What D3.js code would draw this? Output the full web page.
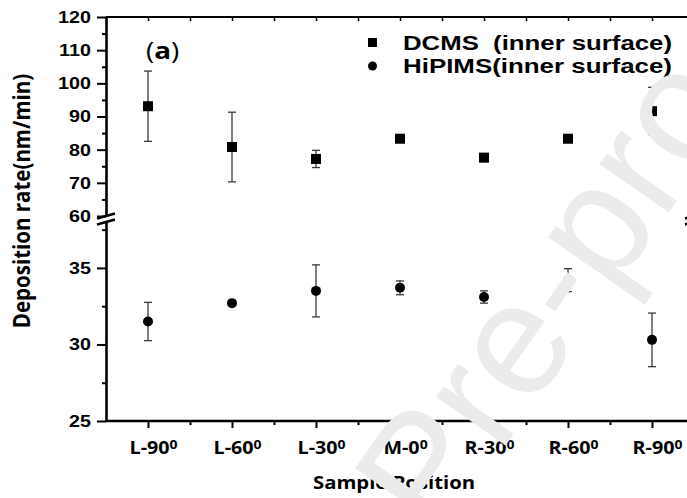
<!DOCTYPE html>
<html><head><meta charset="utf-8">
<script src="https://cdn.jsdelivr.net/npm/d3@7"></script>
<style>body{margin:0;background:#fff}</style>
</head><body>
<svg id="chart" width="687" height="498"></svg>
<script>
// Deposition rate at each sample position, two discharge modes
const categories = ["L-90", "L-60", "L-30", "M-0", "R-30", "R-60", "R-90"];
const dcmsRate = [93.1, 80.8, 77.2, 83.3, 77.6, 83.3, 91.6];
const dcmsErr = [10.6, 10.5, 2.6, 0.6, 1.2, 0.6, 7.2];
const hipimsRate = [31.5, 32.7, 33.5, 33.7, 33.1, 34.2, 30.3];
const hipimsErr = [1.25, 0.1, 1.7, 0.45, 0.4, 0.75, 1.75];
const upperTicks = [60, 70, 80, 90, 100, 110, 120];
const upperMinor = [65, 75, 85, 95, 105, 115];
const lowerTicks = [25, 30, 35];
const lowerMinor = [27.5, 32.5, 37.5];
const legendLabels = ["DCMS  (inner surface)", "HiPIMS(inner surface)"];

const svg = d3.select("#chart");
const SX = 1.16; // horizontal stretch of the lettering
const boldSans = "'Liberation Sans', Arial, sans-serif";
const labelSans = "'Open Sans', 'Noto Sans', sans-serif";

const x = d3.scaleLinear().domain([-0.5, 6.5]).range([106, 694]);
const yUp = d3.scaleLinear().domain([60, 120]).range([216, 17]);
const yLo = d3.scaleLinear().domain([25, 38]).range([421, 222]);
const xLeft = 106, xRight = 694;

function styleAxis(g, w) {
  g.select(".domain").attr("stroke", "#000").attr("stroke-width", w);
  g.selectAll(".tick line").attr("stroke", "#000").attr("stroke-width", 2);
}

// frame: top line
svg.append("line").attr("x1", xLeft).attr("x2", 687).attr("y1", 17).attr("y2", 17)
  .attr("stroke", "#000").attr("stroke-width", 2);

// top axis ticks (inward)
const gTop = svg.append("g").attr("transform", "translate(0,17)")
  .call(d3.axisBottom(x).tickValues(d3.range(0, 7, 0.5)).tickSize(4).tickSizeOuter(0).tickFormat(""));
gTop.select(".domain").remove();
gTop.selectAll(".tick line").attr("stroke", "#000").attr("stroke-width", 1.5);

// left axis, upper segment
const gUp = svg.append("g").attr("transform", `translate(${xLeft},0)`)
  .call(d3.axisLeft(yUp).tickValues(upperTicks).tickSize(9).tickSizeOuter(0).tickPadding(4).tickFormat(d3.format("d")));
styleAxis(gUp, 2.6);
svg.append("g").attr("transform", `translate(${xLeft},0)`)
  .call(d3.axisLeft(yUp).tickValues(upperMinor).tickSize(4).tickFormat(""))
  .call(g => { g.select(".domain").remove(); g.selectAll("line").attr("stroke", "#000").attr("stroke-width", 2); });

// left axis, lower segment
const gLo = svg.append("g").attr("transform", `translate(${xLeft},0)`)
  .call(d3.axisLeft(yLo).tickValues(lowerTicks).tickSize(9).tickSizeOuter(0).tickPadding(4).tickFormat(d3.format("d")));
styleAxis(gLo, 2.6);
svg.append("g").attr("transform", `translate(${xLeft},0)`)
  .call(d3.axisLeft(yLo).tickValues(lowerMinor).tickSize(4).tickFormat(""))
  .call(g => { g.select(".domain").remove(); g.selectAll("line").attr("stroke", "#000").attr("stroke-width", 2); });

[gUp, gLo].forEach(g => g.selectAll(".tick text")
  .attr("font-family", boldSans).attr("font-weight", "bold").attr("font-size", 17)
  .attr("fill", "#000").attr("transform", `scale(${SX},1)`));

// right axis segments
svg.append("line").attr("x1", xRight).attr("x2", xRight).attr("y1", yUp(120)).attr("y2", yUp(60))
  .attr("stroke", "#000").attr("stroke-width", 2.6);
svg.append("line").attr("x1", xRight).attr("x2", xRight).attr("y1", yLo(38)).attr("y2", yLo(25))
  .attr("stroke", "#000").attr("stroke-width", 2.6);

// axis break marks
[xLeft, xRight].forEach(bx => {
  [yUp(60), yLo(38)].forEach(by => {
    svg.append("line").attr("x1", bx - 9).attr("x2", bx + 9)
      .attr("y1", by + 2.5).attr("y2", by - 2.5)
      .attr("stroke", "#000").attr("stroke-width", 2.6);
  });
});

// bottom axis
const gX = svg.append("g").attr("transform", "translate(0,421)")
  .call(d3.axisBottom(x).tickValues(d3.range(0, 7)).tickSize(7).tickSizeOuter(0).tickPadding(14)
    .tickFormat(i => categories[i]));
gX.select(".domain").attr("stroke", "#000").attr("stroke-width", 2.6)
  .attr("d", `M${xLeft},0H${xRight}`);
gX.selectAll(".tick line").attr("stroke", "#000").attr("stroke-width", 2);
svg.append("g").attr("transform", "translate(0,421)")
  .call(d3.axisBottom(x).tickValues(d3.range(0.5, 6, 1)).tickSize(4).tickFormat(""))
  .call(g => { g.select(".domain").remove(); g.selectAll("line").attr("stroke", "#000").attr("stroke-width", 2); });

gX.selectAll(".tick text")
  .attr("font-family", labelSans).attr("font-weight", "bold").attr("font-size", 17)
  .attr("fill", "#000").attr("transform", `translate(5,0) scale(${SX},1)`)
  .each(function () {
    const t = d3.select(this);
    const base = t.text();
    t.text(null);
    t.append("tspan").text(base);
    t.append("tspan").attr("dy", "-0.45em").attr("font-size", 12).text("0");
  });

// error bars
function errorBars(values, errs, y) {
  const g = svg.append("g").attr("stroke", "#3a3a3a").attr("stroke-width", 1.3);
  values.forEach((v, i) => {
    if (errs[i] <= 0.15) return;
    const cx = x(i), top = y(v + errs[i]), bot = y(v - errs[i]);
    g.append("line").attr("x1", cx).attr("x2", cx).attr("y1", top).attr("y2", bot);
    g.append("line").attr("x1", cx - 4).attr("x2", cx + 4).attr("y1", top).attr("y2", top);
    g.append("line").attr("x1", cx - 4).attr("x2", cx + 4).attr("y1", bot).attr("y2", bot);
  });
}
errorBars(dcmsRate, dcmsErr, yUp);
errorBars(hipimsRate, hipimsErr, yLo);

// markers
svg.append("g").selectAll("rect").data(dcmsRate).join("rect")
  .attr("x", (d, i) => x(i) - 5).attr("y", d => yUp(d) - 5)
  .attr("width", 10).attr("height", 10).attr("fill", "#000");
svg.append("g").selectAll("circle").data(hipimsRate).join("circle")
  .attr("cx", (d, i) => x(i)).attr("cy", d => yLo(d)).attr("r", 5).attr("fill", "#000");

// legend
const legend = svg.append("g");
legend.append("rect").attr("x", 368).attr("y", 38).attr("width", 9).attr("height", 9).attr("fill", "#000");
legend.append("circle").attr("cx", 372.5).attr("cy", 66).attr("r", 4.5).attr("fill", "#000");
legendLabels.forEach((s, i) => {
  legend.append("text").attr("x", 403).attr("y", 50 + i * 23)
    .attr("textLength", 269).attr("lengthAdjust", "spacingAndGlyphs")
    .attr("font-family", boldSans).attr("font-weight", "bold").attr("font-size", 20)
    .attr("fill", "#000").style("white-space", "pre").text(s);
});

// panel tag
const tag = svg.append("text").attr("transform", `translate(146,59) scale(${SX},1)`)
  .attr("font-family", labelSans).attr("font-size", 24).attr("fill", "#000");
tag.append("tspan").text("(");
tag.append("tspan").attr("font-weight", "bold").text("a");
tag.append("tspan").text(")");

// axis titles
svg.append("text").attr("transform", `translate(394,489) scale(${SX},1)`)
  .attr("text-anchor", "middle").attr("font-family", labelSans).attr("font-weight", "bold")
  .attr("font-size", 17.5).attr("fill", "#000").text("Sample Position");
svg.append("text").attr("transform", `translate(30,201) scale(${SX},1) rotate(-90)`)
  .attr("text-anchor", "middle").attr("font-family", labelSans).attr("font-weight", "bold")
  .attr("font-size", 20.5).attr("fill", "#000").text("Deposition rate(nm/min)");

// watermark
svg.append("text").attr("transform", "translate(438,542) rotate(-55)")
  .attr("font-family", "'Liberation Sans', Arial, sans-serif").attr("font-size", 160)
  .attr("fill", "#ebebeb").text("Pre-proof");
</script>
</body></html>
